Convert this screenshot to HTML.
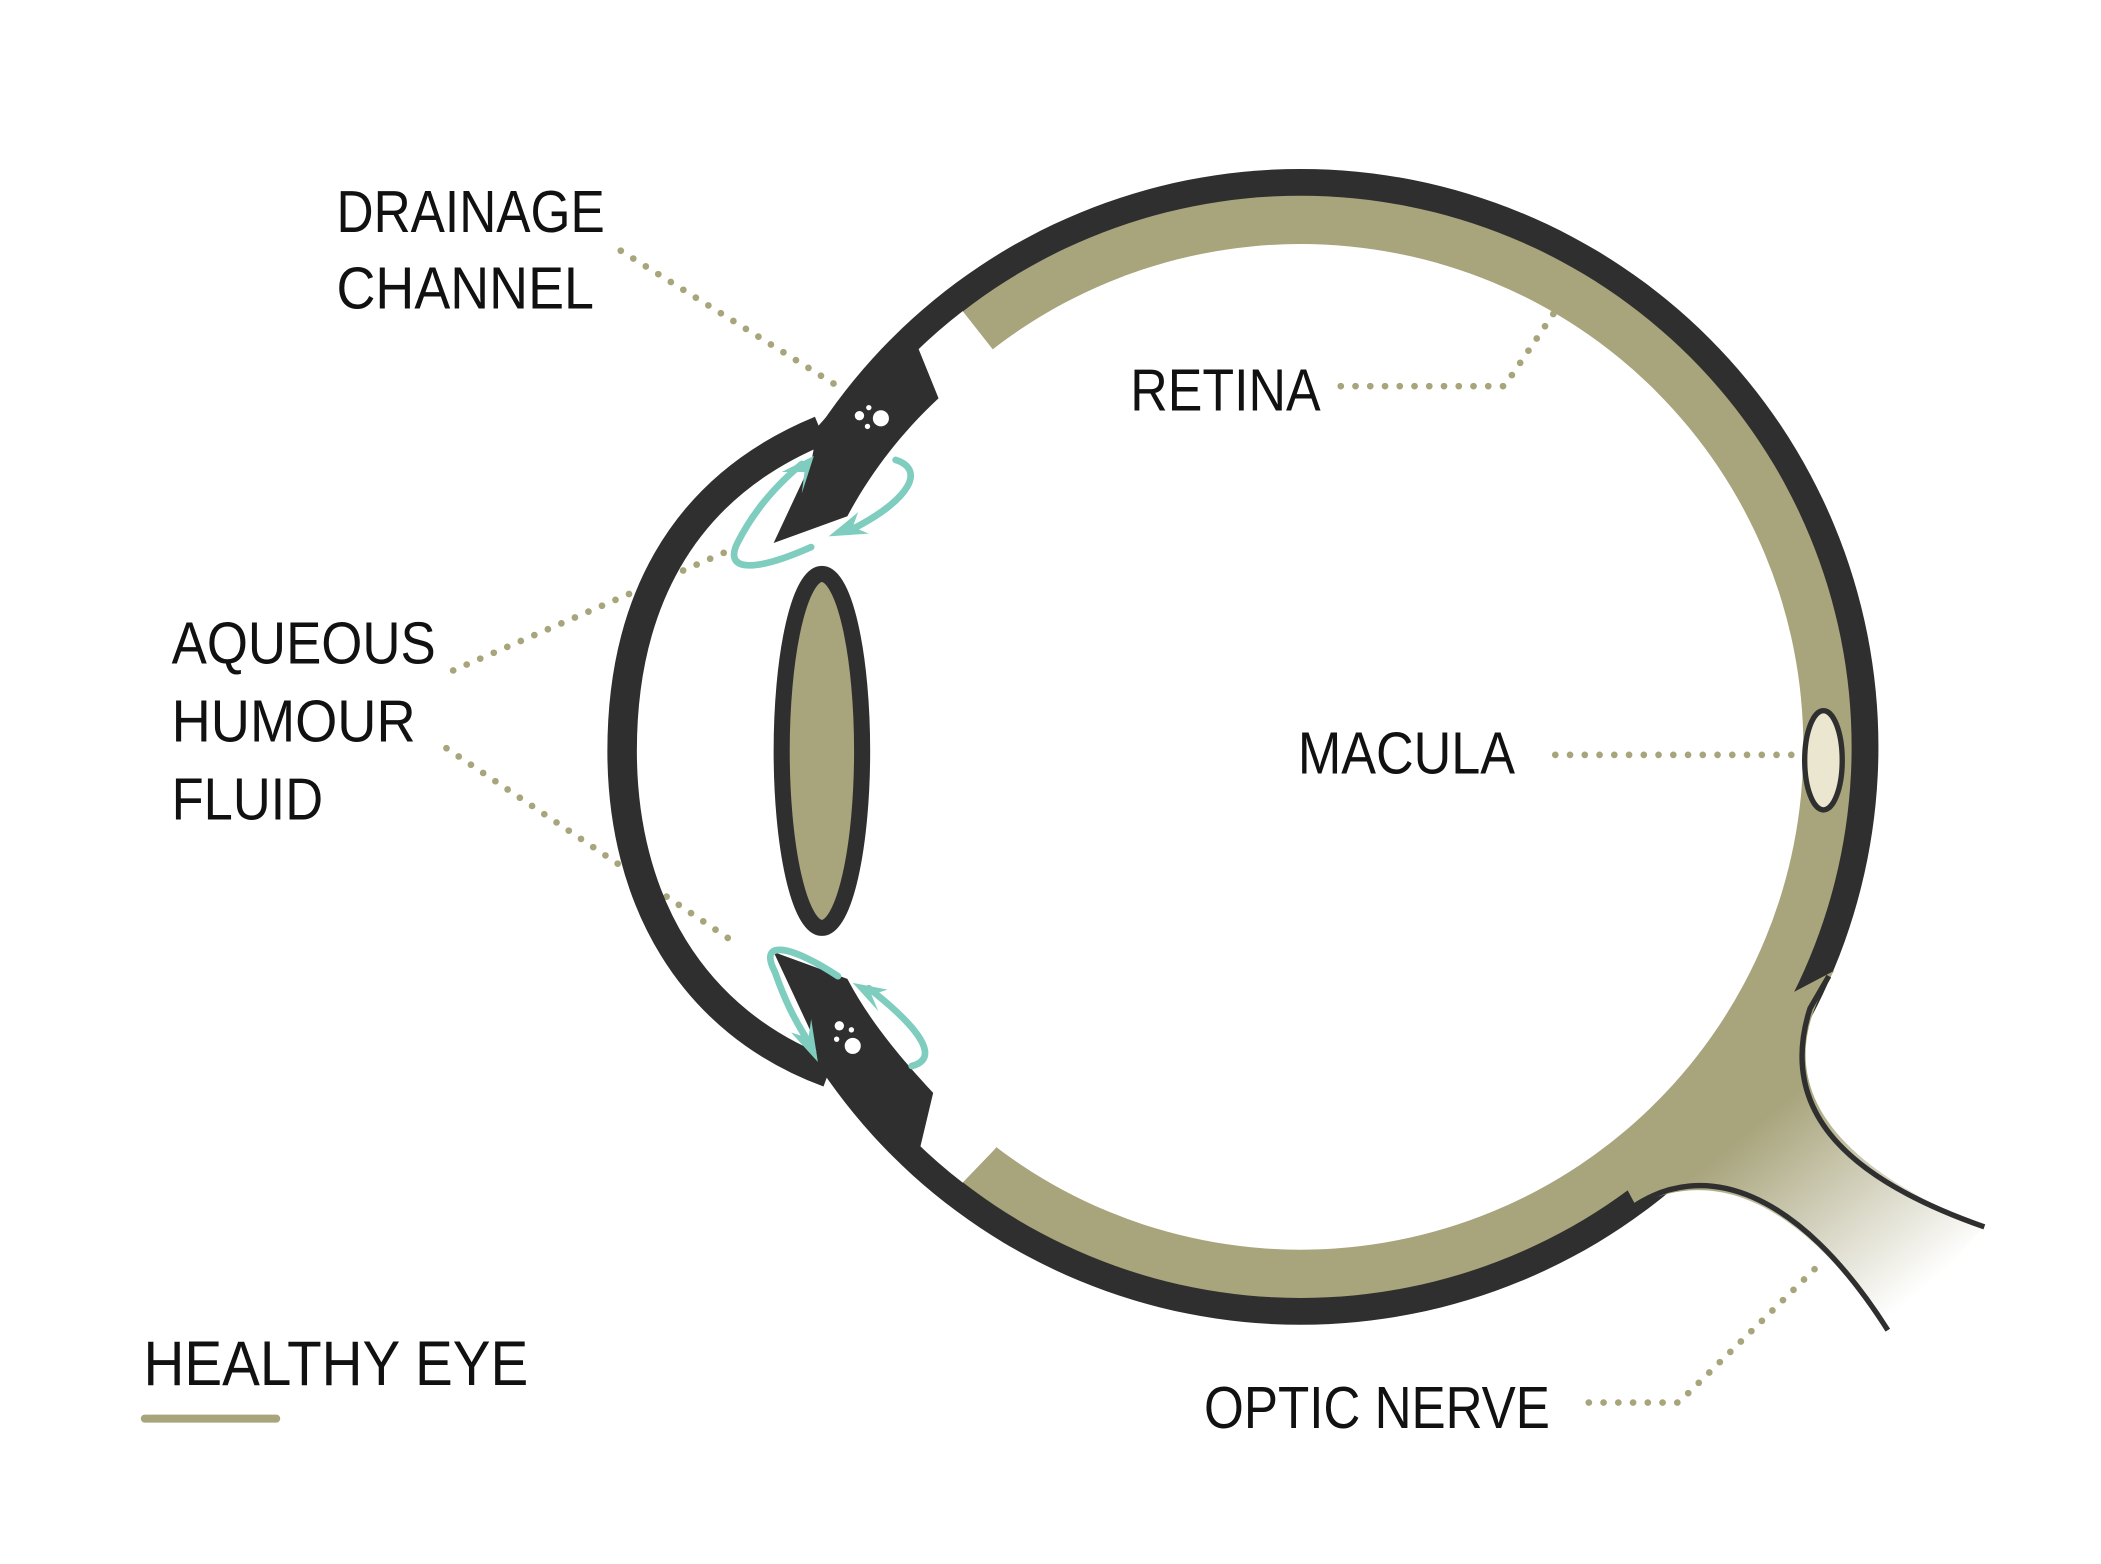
<!DOCTYPE html>
<html><head><meta charset="utf-8"><style>html,body{margin:0;padding:0;background:#fff}svg{display:block}</style></head>
<body>
<svg width="2101" height="1564" viewBox="0 0 1567 1166.4" preserveAspectRatio="none" xmlns="http://www.w3.org/2000/svg">
<defs>
<linearGradient id="g" x1="1320" y1="830" x2="1430" y2="965" gradientUnits="userSpaceOnUse">
<stop offset="0" stop-color="#a8a47c"/><stop offset="1" stop-color="#fff"/>
</linearGradient>
</defs>
<rect width="1567" height="1167" fill="#fff"/>
<circle cx="970" cy="557" r="431" fill="#2f2f2f"/>
<circle cx="970" cy="557" r="411" fill="#a8a47c"/>
<circle cx="970" cy="557" r="375" fill="#fff"/>
<path d="M718,232 L740,260 L970,557 L742,857 L718,882 A411,411 0 0,1 718,232 Z" fill="#fff"/>
<path d="M610,316 A433,433 0 0,0 610,798 Z" fill="#fff"/>
<!-- optic nerve -->
<path d="M1368,724 C1335,775 1320,850 1480,915 L1408,992 C1350,910 1290,865 1220,899 L1212,884 L1256,843 L1302,789 L1328,745 Z" fill="url(#g)"/>
<path d="M1364,728 L1350,752 C1325,830 1380,880 1480,915" fill="none" stroke="#2f2f2f" stroke-width="4"/>
<path d="M1218,900 C1270,865 1340,885 1408,992" fill="none" stroke="#2f2f2f" stroke-width="4"/>
<!-- leaders -->
<g fill="none" stroke="#a8a47c" stroke-width="5" stroke-linecap="round" stroke-dasharray="0 11">
<path d="M463,187 L628,290"/>
<path d="M1000,288 L1122,288 L1160,232"/>
<path d="M338,500 L545,410"/>
<path d="M333,558 L548,703"/>
<path d="M1160,563 L1338,563"/>
<path d="M1185,1046 L1252,1046 L1360,940"/>
</g>
<!-- iris -->
<path d="M683,236 L685,260 L700,297 C670,325 648,355 632,385 L577,405 L605,345 L610,318 Z" fill="#2f2f2f"/>
<path d="M683,878 L686,857 L696,815 C668,785 648,760 632,730 L577,710 L605,770 L612,796 Z" fill="#2f2f2f"/>
<!-- cornea -->
<path d="M612,321 C505,365 464,455 464,560 C464,670 515,762 618,800" fill="none" stroke="#2f2f2f" stroke-width="22"/>
<!-- lens -->
<ellipse cx="613" cy="560" rx="30" ry="132" fill="#a8a47c" stroke="#2f2f2f" stroke-width="12"/>
<!-- dots -->
<g fill="#fff">
<circle cx="657" cy="312" r="6"/><circle cx="641" cy="310" r="3.5"/><circle cx="648" cy="304" r="2"/><circle cx="647" cy="318" r="2"/>
<circle cx="636" cy="780" r="6"/><circle cx="626" cy="765" r="3.5"/><circle cx="624" cy="775" r="2"/><circle cx="635" cy="768" r="2"/>
</g>
<!-- arrows -->
<g fill="none" stroke="#7fcdbf" stroke-width="5" stroke-linecap="round">
<path d="M605,408 C560,428 540,425 550,405 C560,385 575,365 598,346"/>
<path d="M668,343 C690,350 680,372 635,395"/>
<path d="M625,728 C590,705 565,700 578,725 C585,745 592,760 605,780"/>
<path d="M680,795 C700,790 690,770 648,737"/>
</g>
<g fill="#7fcdbf">
<polygon points="607,340 583,352 600,352 598,368"/>
<polygon points="618,400 640,382 636,393 648,398"/>
<polygon points="610,792 590,770 603,774 605,760"/>
<polygon points="636,733 662,738 650,742 655,754"/>
</g>
<!-- macula -->
<ellipse cx="1360" cy="567" rx="14" ry="37" fill="#ebe6cf" stroke="#2f2f2f" stroke-width="4"/>
<!-- labels -->
<g font-family="Liberation Sans, sans-serif" font-size="44" fill="#111">
<text x="251" y="173" textLength="200" lengthAdjust="spacingAndGlyphs">DRAINAGE</text>
<text x="251" y="230" textLength="192" lengthAdjust="spacingAndGlyphs">CHANNEL</text>
<text x="843" y="306" textLength="142" lengthAdjust="spacingAndGlyphs">RETINA</text>
<text x="128" y="495" textLength="197" lengthAdjust="spacingAndGlyphs">AQUEOUS</text>
<text x="128" y="553" textLength="182" lengthAdjust="spacingAndGlyphs">HUMOUR</text>
<text x="128" y="611" textLength="113" lengthAdjust="spacingAndGlyphs">FLUID</text>
<text x="968" y="577" textLength="162" lengthAdjust="spacingAndGlyphs">MACULA</text>
<text x="898" y="1065" textLength="258" lengthAdjust="spacingAndGlyphs">OPTIC NERVE</text>
<text x="107" y="1033" font-size="47" textLength="287" lengthAdjust="spacingAndGlyphs">HEALTHY EYE</text>
</g>
<line x1="108" y1="1058" x2="206" y2="1058" stroke="#a8a47c" stroke-width="6" stroke-linecap="round"/>
</svg>
</body></html>
